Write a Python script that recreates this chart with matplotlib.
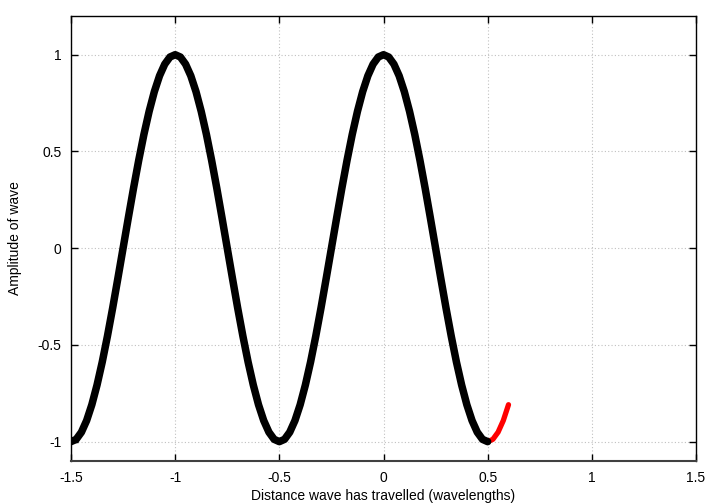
import numpy as np
import matplotlib
matplotlib.use("Agg")
import matplotlib.pyplot as plt

plt.rcParams['font.family'] = ['Liberation Sans', 'DejaVu Sans']
plt.rcParams['axes.unicode_minus'] = False

# x samples from -1.5 to 0.6 in steps of 0.025
x_vals = np.linspace(-1.5, 0.6, 85)
y_vals = [
    -1, -0.988, -0.951, -0.891, -0.809, -0.707, -0.588, -0.454, -0.309, -0.156,
    0, 0.156, 0.309, 0.454, 0.588, 0.707, 0.809, 0.891, 0.951, 0.988,
    1, 0.988, 0.951, 0.891, 0.809, 0.707, 0.588, 0.454, 0.309, 0.156,
    0, -0.156, -0.309, -0.454, -0.588, -0.707, -0.809, -0.891, -0.951, -0.988,
    -1, -0.988, -0.951, -0.891, -0.809, -0.707, -0.588, -0.454, -0.309, -0.156,
    0, 0.156, 0.309, 0.454, 0.588, 0.707, 0.809, 0.891, 0.951, 0.988,
    1, 0.988, 0.951, 0.891, 0.809, 0.707, 0.588, 0.454, 0.309, 0.156,
    0, -0.156, -0.309, -0.454, -0.588, -0.707, -0.809, -0.891, -0.951, -0.988,
    -1, -0.988, -0.951, -0.891, -0.809,
]
n_black = 81  # black part ends at x = 0.5

x_ticks = [-1.5, -1, -0.5, 0, 0.5, 1, 1.5]
x_labels = ["-1.5", "-1", "-0.5", "0", "0.5", "1", "1.5"]
y_ticks = [-1, -0.5, 0, 0.5, 1]
y_labels = ["-1", "-0.5", "0", "0.5", "1"]

fig = plt.figure(figsize=(7.2, 5.04), dpi=100)
ax = fig.add_axes([71/720, 43/504, 625/720, 445/504])

ax.plot(x_vals, y_vals, color='#ff0000', lw=3.8, solid_capstyle='round',
        solid_joinstyle='round', zorder=3)
ax.plot(x_vals[:n_black], y_vals[:n_black], color='black', lw=5.4,
        solid_capstyle='round', solid_joinstyle='round', zorder=4)

ax.set_xlim(-1.5, 1.5)
ax.set_ylim(-1.1, 1.2)
ax.set_xticks(x_ticks)
ax.set_xticklabels(x_labels)
ax.set_yticks(y_ticks)
ax.set_yticklabels(y_labels)
ax.grid(True, color='#c0c0c0', linestyle=(0, (1, 2)), linewidth=0.8)
ax.set_axisbelow(True)
ax.tick_params(direction='in', length=5, width=1, top=True, right=True,
               labelsize=10, colors='black')
ax.tick_params(axis='x', pad=7)
ax.tick_params(axis='y', pad=7)
for s in ax.spines.values():
    s.set_color('black')
    s.set_linewidth(1.0)
ax.spines['bottom'].set_color('#404040')
ax.spines['bottom'].set_linewidth(1.5)

ax.set_xlabel("Distance wave has travelled (wavelengths)", fontsize=10, labelpad=3)
ax.set_ylabel("Amplitude of wave", fontsize=10, labelpad=11)

fig.savefig("out.png", dpi=100)
